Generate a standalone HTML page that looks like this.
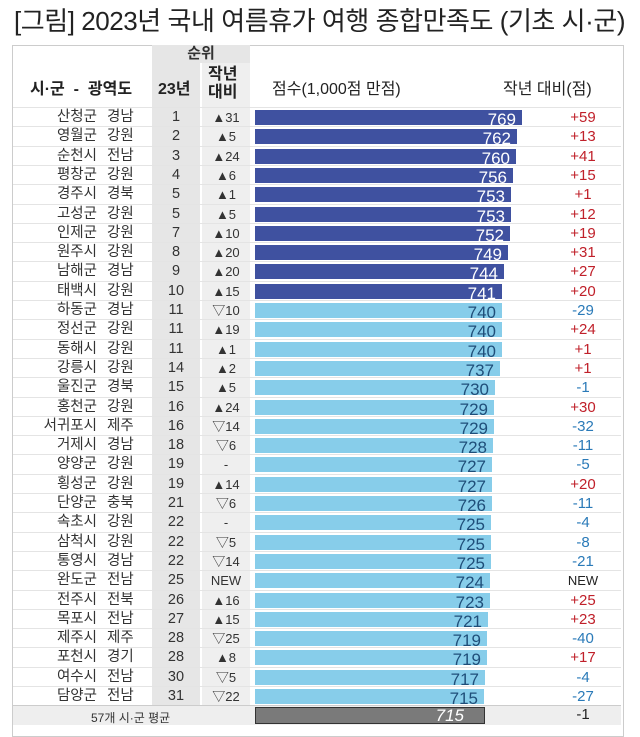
<!DOCTYPE html>
<html><head><meta charset="utf-8"><style>
body{margin:0;width:640px;height:724px;background:#fff;position:relative;overflow:hidden;font-family:"Liberation Sans","Noto Sans CJK KR",sans-serif;}
.t{position:absolute;left:14px;top:1px;font-size:26px;color:#222;white-space:nowrap;letter-spacing:-0.45px}
.frame{position:absolute;left:12px;top:45px;width:610px;height:690px;border:1px solid #ccc;}
.gc1{position:absolute;left:152px;top:45px;width:48px;height:660px;background:#e6e6e6}
.gc2{position:absolute;left:202px;top:63px;width:48px;height:642px;background:#efefef}
.gh{position:absolute;left:152px;top:45px;width:98px;height:18px;background:#e6e6e6;text-align:center;font-size:15px;line-height:18px;font-weight:bold;color:#333}
.h{position:absolute;font-size:16px;color:#222;font-weight:bold;white-space:nowrap}
.r{position:absolute;left:13px;width:608px;height:19.3px;border-top:1px solid #e4e4e4;font-size:14.5px;color:#333}
.r span{position:absolute;top:0;line-height:19px}
.n{right:524px;text-align:right;white-space:nowrap}
.p{left:94px}
.k{left:139px;width:48px;text-align:center}
.c{left:189px;width:48px;text-align:center;font-size:13px}
.b{position:absolute;left:242px;top:2px;height:15px;background:#3f51a0;}
.b.l{background:#87cdea}
.v{position:absolute;right:6px;top:-2px;font-size:17px;color:#fff;line-height:19px}
.l .v{color:#1f4e79}
.d{left:530px;width:80px;text-align:center;font-size:15px}
.pos{color:#c0202a}.neg{color:#2a7ab8}
.foot{position:absolute;left:13px;top:705px;width:608px;height:19px;background:#eeeeee;border-top:1px solid #ccc}
</style></head><body>
<div class="t">[그림] 2023년 국내 여름휴가 여행 종합만족도 (기초 시·군)</div>
<div class="frame"></div>
<div class="gc1"></div><div class="gc2"></div>
<div class="gh">순위</div>
<div class="h" style="left:30px;top:75px">시·군 &nbsp;- &nbsp;광역도</div>
<div class="h" style="left:158px;top:75px">23년</div>
<div class="h" style="left:208px;top:66px;text-align:center;line-height:18px">작년<br>대비</div>
<div class="h" style="left:272px;top:75px;font-weight:normal">점수(1,000점 만점)</div>
<div class="h" style="left:503px;top:75px;font-weight:normal">작년 대비(점)</div>

<div class="r" style="top:107px"><span class="n">산청군</span><span class="p">경남</span><span class="k">1</span><span class="c">▲31</span><div class="b" style="width:267px"><span class="v">769</span></div><span class="d pos">+59</span></div>
<div class="r" style="top:126.3px"><span class="n">영월군</span><span class="p">강원</span><span class="k">2</span><span class="c">▲5</span><div class="b" style="width:262px"><span class="v">762</span></div><span class="d pos">+13</span></div>
<div class="r" style="top:145.6px"><span class="n">순천시</span><span class="p">전남</span><span class="k">3</span><span class="c">▲24</span><div class="b" style="width:261px"><span class="v">760</span></div><span class="d pos">+41</span></div>
<div class="r" style="top:164.9px"><span class="n">평창군</span><span class="p">강원</span><span class="k">4</span><span class="c">▲6</span><div class="b" style="width:258px"><span class="v">756</span></div><span class="d pos">+15</span></div>
<div class="r" style="top:184.2px"><span class="n">경주시</span><span class="p">경북</span><span class="k">5</span><span class="c">▲1</span><div class="b" style="width:256px"><span class="v">753</span></div><span class="d pos">+1</span></div>
<div class="r" style="top:203.5px"><span class="n">고성군</span><span class="p">강원</span><span class="k">5</span><span class="c">▲5</span><div class="b" style="width:256px"><span class="v">753</span></div><span class="d pos">+12</span></div>
<div class="r" style="top:222.8px"><span class="n">인제군</span><span class="p">강원</span><span class="k">7</span><span class="c">▲10</span><div class="b" style="width:255px"><span class="v">752</span></div><span class="d pos">+19</span></div>
<div class="r" style="top:242.1px"><span class="n">원주시</span><span class="p">강원</span><span class="k">8</span><span class="c">▲20</span><div class="b" style="width:253px"><span class="v">749</span></div><span class="d pos">+31</span></div>
<div class="r" style="top:261.4px"><span class="n">남해군</span><span class="p">경남</span><span class="k">9</span><span class="c">▲20</span><div class="b" style="width:249px"><span class="v">744</span></div><span class="d pos">+27</span></div>
<div class="r" style="top:280.7px"><span class="n">태백시</span><span class="p">강원</span><span class="k">10</span><span class="c">▲15</span><div class="b" style="width:247px"><span class="v">741</span></div><span class="d pos">+20</span></div>
<div class="r" style="top:300px"><span class="n">하동군</span><span class="p">경남</span><span class="k">11</span><span class="c">▽10</span><div class="b l" style="width:247px"><span class="v">740</span></div><span class="d neg">-29</span></div>
<div class="r" style="top:319.3px"><span class="n">정선군</span><span class="p">강원</span><span class="k">11</span><span class="c">▲19</span><div class="b l" style="width:247px"><span class="v">740</span></div><span class="d pos">+24</span></div>
<div class="r" style="top:338.6px"><span class="n">동해시</span><span class="p">강원</span><span class="k">11</span><span class="c">▲1</span><div class="b l" style="width:247px"><span class="v">740</span></div><span class="d pos">+1</span></div>
<div class="r" style="top:357.9px"><span class="n">강릉시</span><span class="p">강원</span><span class="k">14</span><span class="c">▲2</span><div class="b l" style="width:245px"><span class="v">737</span></div><span class="d pos">+1</span></div>
<div class="r" style="top:377.2px"><span class="n">울진군</span><span class="p">경북</span><span class="k">15</span><span class="c">▲5</span><div class="b l" style="width:240px"><span class="v">730</span></div><span class="d neg">-1</span></div>
<div class="r" style="top:396.5px"><span class="n">홍천군</span><span class="p">강원</span><span class="k">16</span><span class="c">▲24</span><div class="b l" style="width:239px"><span class="v">729</span></div><span class="d pos">+30</span></div>
<div class="r" style="top:415.8px"><span class="n">서귀포시</span><span class="p">제주</span><span class="k">16</span><span class="c">▽14</span><div class="b l" style="width:239px"><span class="v">729</span></div><span class="d neg">-32</span></div>
<div class="r" style="top:435.1px"><span class="n">거제시</span><span class="p">경남</span><span class="k">18</span><span class="c">▽6</span><div class="b l" style="width:238px"><span class="v">728</span></div><span class="d neg">-11</span></div>
<div class="r" style="top:454.4px"><span class="n">양양군</span><span class="p">강원</span><span class="k">19</span><span class="c">-</span><div class="b l" style="width:237px"><span class="v">727</span></div><span class="d neg">-5</span></div>
<div class="r" style="top:473.7px"><span class="n">횡성군</span><span class="p">강원</span><span class="k">19</span><span class="c">▲14</span><div class="b l" style="width:237px"><span class="v">727</span></div><span class="d pos">+20</span></div>
<div class="r" style="top:493px"><span class="n">단양군</span><span class="p">충북</span><span class="k">21</span><span class="c">▽6</span><div class="b l" style="width:237px"><span class="v">726</span></div><span class="d neg">-11</span></div>
<div class="r" style="top:512.3px"><span class="n">속초시</span><span class="p">강원</span><span class="k">22</span><span class="c">-</span><div class="b l" style="width:236px"><span class="v">725</span></div><span class="d neg">-4</span></div>
<div class="r" style="top:531.6px"><span class="n">삼척시</span><span class="p">강원</span><span class="k">22</span><span class="c">▽5</span><div class="b l" style="width:236px"><span class="v">725</span></div><span class="d neg">-8</span></div>
<div class="r" style="top:550.9px"><span class="n">통영시</span><span class="p">경남</span><span class="k">22</span><span class="c">▽14</span><div class="b l" style="width:236px"><span class="v">725</span></div><span class="d neg">-21</span></div>
<div class="r" style="top:570.2px"><span class="n">완도군</span><span class="p">전남</span><span class="k">25</span><span class="c">NEW</span><div class="b l" style="width:235px"><span class="v">724</span></div><span class="d" style="color:#222;font-size:13px">NEW</span></div>
<div class="r" style="top:589.5px"><span class="n">전주시</span><span class="p">전북</span><span class="k">26</span><span class="c">▲16</span><div class="b l" style="width:235px"><span class="v">723</span></div><span class="d pos">+25</span></div>
<div class="r" style="top:608.8px"><span class="n">목포시</span><span class="p">전남</span><span class="k">27</span><span class="c">▲15</span><div class="b l" style="width:233px"><span class="v">721</span></div><span class="d pos">+23</span></div>
<div class="r" style="top:628.1px"><span class="n">제주시</span><span class="p">제주</span><span class="k">28</span><span class="c">▽25</span><div class="b l" style="width:232px"><span class="v">719</span></div><span class="d neg">-40</span></div>
<div class="r" style="top:647.4px"><span class="n">포천시</span><span class="p">경기</span><span class="k">28</span><span class="c">▲8</span><div class="b l" style="width:232px"><span class="v">719</span></div><span class="d pos">+17</span></div>
<div class="r" style="top:666.7px"><span class="n">여수시</span><span class="p">전남</span><span class="k">30</span><span class="c">▽5</span><div class="b l" style="width:230px"><span class="v">717</span></div><span class="d neg">-4</span></div>
<div class="r" style="top:686px"><span class="n">담양군</span><span class="p">전남</span><span class="k">31</span><span class="c">▽22</span><div class="b l" style="width:229px"><span class="v">715</span></div><span class="d neg">-27</span></div>

<div class="foot">
<span style="position:absolute;left:78px;top:3px;font-size:12px;color:#333">57개 시·군 평균</span>
<div style="position:absolute;left:242px;top:1px;width:228px;height:15px;background:#7a7a7a;border:1px solid #333"><span style="position:absolute;right:20px;top:-2px;font-size:17px;color:#fff;font-style:italic">715</span></div>
<span style="position:absolute;left:530px;width:80px;text-align:center;top:0;font-size:15px;color:#222">-1</span>
</div>
</body></html>
